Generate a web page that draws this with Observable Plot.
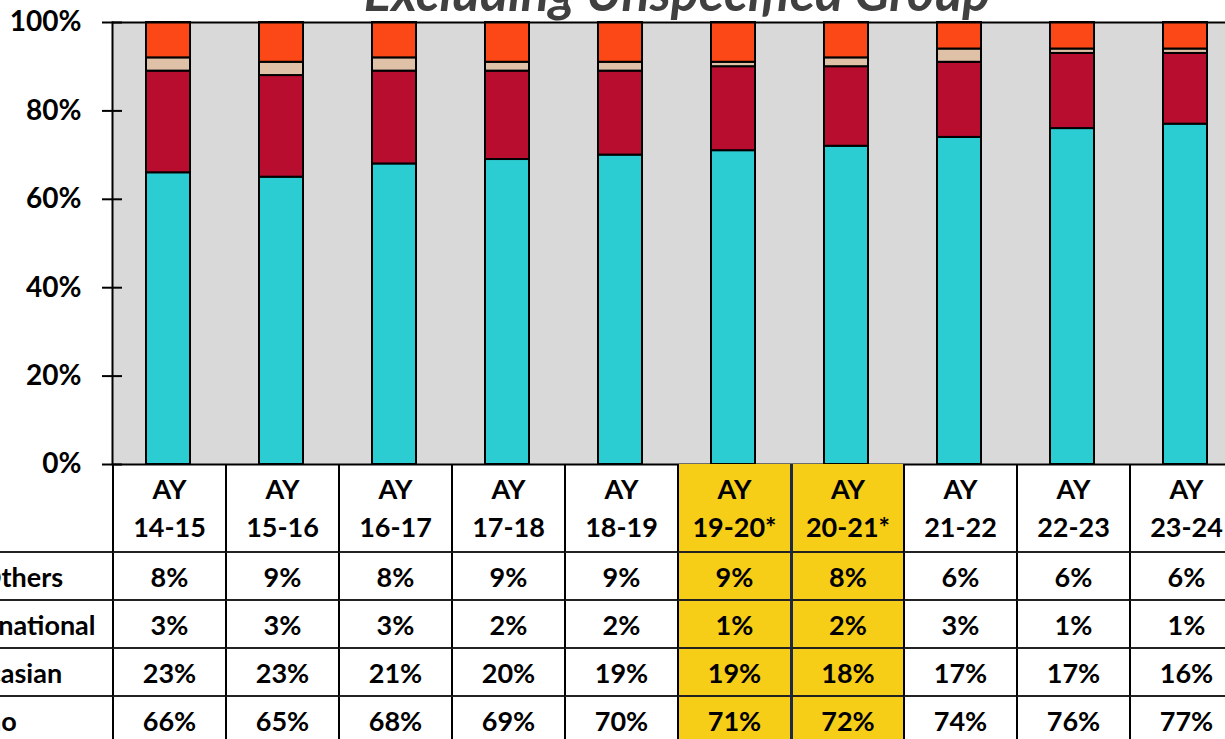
<!DOCTYPE html>
<html><head><meta charset="utf-8">
<script src="https://cdn.jsdelivr.net/npm/d3@7"></script>
<script src="https://cdn.jsdelivr.net/npm/@observablehq/plot@0.6"></script>
<style>
html,body{margin:0;padding:0;overflow:hidden;background:#fff;}
#wrap{position:relative;width:1225px;height:739px;overflow:hidden;font-family:Lato,"Open Sans",sans-serif;}
#title{position:absolute;left:677px;top:-35px;transform:translateX(-50%);white-space:nowrap;font-size:52px;line-height:52px;font-weight:bold;font-style:italic;color:#404040;}
#chart{position:absolute;left:0;top:0;}
#table{position:absolute;left:-1px;top:464px;display:grid;grid-template-columns:113px repeat(10,113px);grid-template-rows:89px repeat(4,48px);font-weight:bold;font-size:27px;color:#000;}
.cell{box-sizing:border-box;border-bottom:2px solid #222;display:flex;align-items:center;justify-content:center;white-space:nowrap;}
.data{border-left:2px solid #000;}
.hdr{flex-direction:column;line-height:38px;}
.lab{justify-content:flex-start;padding-left:0;}
.lab span{margin-left:-58px;}
.hl{background:#F6CD17;}
.hl2{border-left:3px solid #1c2a48;}
</style>
</head><body>
<div id="wrap">
  <div id="chart"></div>
  <div id="title">Excluding Unspecified Group</div>
  <div id="table"></div>
</div>
<script>
// Categories (academic years)
const categories = ["14-15","15-16","16-17","17-18","18-19","19-20*","20-21*","21-22","22-23","23-24"];
const highlighted = ["19-20*","20-21*"];
// Series (percent), stacked bottom to top
const groups = ["Latino","Caucasian","International","All Others"];
const latino        = [66,65,68,69,70,71,72,74,76,77];
const caucasian     = [23,23,21,20,19,19,18,17,17,16];
const international = [3,3,3,2,2,1,2,3,1,1];
const allOthers     = [8,9,8,9,9,9,8,6,6,6];
const colors = ["#2CCCD3","#B90D30","#DFC1A7","#FC4716"];
const yTicks = [0,0.2,0.4,0.6,0.8,1];

const series = [latino, caucasian, international, allOthers];
const data = [];
categories.forEach((c,i)=>groups.forEach((g,j)=>data.push({year:c, group:g, value:series[j][i]/100})));

const chart = Plot.plot({
  width:1225, height:490, marginTop:22, marginBottom:26, marginLeft:112, marginRight:0,
  style:{fontFamily:"Lato, sans-serif", fontSize:"28px", fontWeight:"bold", color:"#000", background:"transparent", overflow:"hidden"},
  x:{domain:categories, range:[112,1242], paddingInner:0.61, paddingOuter:0.305, axis:null},
  y:{domain:[0,1], axis:null},
  color:{domain:groups, range:colors},
  marks:[
    Plot.frame({fill:"#D9D9D9"}),
    Plot.barY(data, {x:"year", y:"value", fill:"group", stroke:"#000", strokeWidth:2, order:groups}),
    Plot.ruleY([0,1], {stroke:"#000", strokeWidth:2}),
    Plot.frame({anchor:"left", stroke:"#000", strokeWidth:2}),
    Plot.axisY({ticks:yTicks, tickSize:20, dx:10, tickFormat:()=>"", label:null, strokeWidth:2, stroke:"#000"}),
    Plot.axisY({ticks:yTicks, tickSize:0, tickPadding:31, tickFormat:d3.format(".0%"), label:null, fill:"#000"})
  ]
});
document.getElementById("chart").appendChild(chart);

// Data table below the chart
const table = document.getElementById("table");
function cell(html, cls){ const d=document.createElement("div"); d.className="cell "+cls; d.innerHTML=html; table.appendChild(d); }
cell("", "lab");
categories.forEach((c,i)=>{
  let cls = "data hdr";
  if (highlighted.includes(c)) cls += " hl";
  if (c===highlighted[1]) cls += " hl2";
  cell(`<div>AY</div><div>${c}</div>`, cls);
});
const rows = [["All Others", allOthers],["International", international],["Caucasian", caucasian],["Latino", latino]];
rows.forEach(([name, vals])=>{
  cell(`<span>${name}</span>`, "lab");
  vals.forEach((v,i)=>{
    const c = categories[i];
    let cls = "data";
    if (highlighted.includes(c)) cls += " hl";
    if (c===highlighted[1]) cls += " hl2";
    cell(v+"%", cls);
  });
});
</script>
</body></html>
